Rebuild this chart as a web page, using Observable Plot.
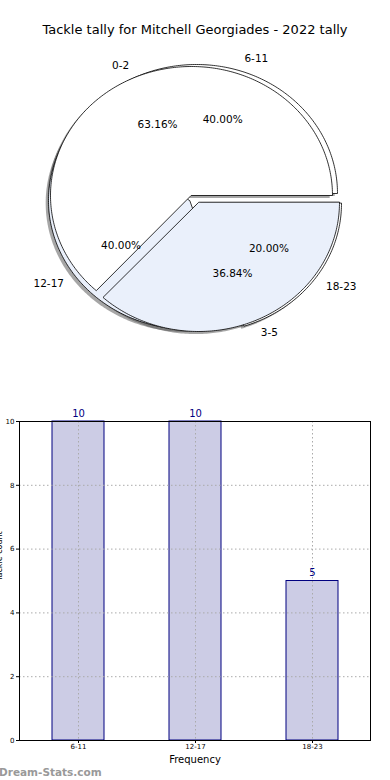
<!DOCTYPE html>
<html><head><meta charset="utf-8">
<script src="https://cdn.jsdelivr.net/npm/d3@7"></script>
<script src="https://cdn.jsdelivr.net/npm/@observablehq/plot@0.6"></script>
<style>
body{margin:0;background:#fff;font-family:"DejaVu Sans",sans-serif;}
#wrap{position:relative;width:390px;height:780px;overflow:hidden;}
#title{position:absolute;left:0;top:22px;width:390px;text-align:center;font-size:13px;line-height:16px;color:#000;}
#pie{position:absolute;left:0;top:0;}
#bar{position:absolute;left:0;top:400px;}
#wm{position:absolute;left:-1px;top:764px;font-size:10.5px;font-weight:bold;color:#999;line-height:16px;}
</style></head>
<body><div id="wrap">
<div id="pie"></div>
<div id="title">Tackle tally for Mitchell Georgiades - 2022 tally</div>
<div id="bar"></div>
<div id="wm">Dream-Stats.com</div>
</div>
<script>
// ---- data ----
const pie1Cats = ["0-2", "3-5"];
const pie1Vals = [12, 7];
const pie2Cats = ["6-11", "12-17", "18-23"];
const pie2Vals = [10, 10, 5];
const barCats = ["6-11", "12-17", "18-23"];
const barVals = [10, 10, 5];
const yTicks = [0, 2, 4, 6, 8, 10];

// ---- pie geometry ----
const RX = 141, RY = 129;
const BLUE = "#eaf0fb";
function wedges(cats, vals, fills, offsPx, id) {
  const total = d3.sum(vals); let a0 = 0;
  return cats.map((c, i) => {
    const a1 = a0 + vals[i] / total * 2 * Math.PI;
    const w = {cat: c, pct: vals[i] / total * 100, a0, a1,
      cx: offsPx[i][0] / RX, cy: -offsPx[i][1] / RY, fill: fills[i], key: id + c};
    a0 = a1;
    return w;
  });
}
function poly(w, dx = 0, dy = 0) {
  const pts = [{x: w.cx + dx, y: w.cy + dy, k: w.key, f: w.fill}];
  const n = Math.max(8, Math.ceil((w.a1 - w.a0) / 0.015));
  for (let j = 0; j <= n; j++) {
    const a = w.a0 + (w.a1 - w.a0) * j / n;
    pts.push({x: w.cx + dx + Math.cos(a), y: w.cy + dy + Math.sin(a), k: w.key, f: w.fill});
  }
  return pts;
}
const w1 = wedges(pie1Cats, pie1Vals, ["white", BLUE], [[-2, -2], [5, 5]], "a");
const w2 = wedges(pie2Cats, pie2Vals, ["white", BLUE, "white"], [[3, -4], [-4, 3], [7, 6]], "b");
const all = [...w2, ...w1];
const shadowPts = all.flatMap(w => poly(w, -0.02, -0.02));
const pie2Pts = w2.flatMap(w => poly(w));
const pie1Pts = w1.flatMap(w => poly(w));
const labels = all.map(w => {
  const m = (w.a0 + w.a1) / 2;
  return {
    lx: w.cx + 1.1 * Math.cos(m), ly: w.cy + 1.1 * Math.sin(m), left: Math.cos(m) < 0, text: w.cat,
    px: w.cx + 0.6 * Math.cos(m), py: w.cy + 0.6 * Math.sin(m), pct: w.pct.toFixed(2) + "%"
  };
});

const pie = Plot.plot({
  width: 390, height: 400, margin: 0,
  style: {fontFamily: "DejaVu Sans", background: "transparent"},
  x: {domain: [-1, 1], range: [193 - RX, 193 + RX], axis: null},
  y: {domain: [-1, 1], range: [197 + RY, 197 - RY], axis: null},
  color: {type: "identity"},
  marks: [
    Plot.line(shadowPts, {x: "x", y: "y", z: "k", fill: "#4d4d4d", fillOpacity: 0.5, stroke: null, curve: "linear-closed"}),
    Plot.line(pie2Pts, {x: "x", y: "y", z: "k", fill: "f", stroke: "black", strokeWidth: 0.8, curve: "linear-closed"}),
    Plot.line(pie1Pts, {x: "x", y: "y", z: "k", fill: "f", stroke: "black", strokeWidth: 0.8, curve: "linear-closed"}),
    Plot.text(labels.filter(d => d.left), {x: "lx", y: "ly", text: "text", textAnchor: "end", fontSize: 10.5, fill: "black"}),
    Plot.text(labels.filter(d => !d.left), {x: "lx", y: "ly", text: "text", textAnchor: "start", fontSize: 10.5, fill: "black"}),
    Plot.text(labels, {x: "px", y: "py", text: "pct", fontSize: 10.5, fill: "black"})
  ]
});
document.getElementById("pie").appendChild(pie);

// ---- bar chart ----
const bars = barCats.map((c, i) => ({c, v: barVals[i]}));
const bar = Plot.plot({
  width: 390, height: 380, marginLeft: 19, marginRight: 20, marginTop: 21, marginBottom: 40,
  style: {fontFamily: "DejaVu Sans", fontSize: "7px", background: "transparent", color: "black", overflow: "visible"},
  x: {domain: barCats, paddingInner: 0.556, paddingOuter: 0.278, label: null, tickSize: 3, tickPadding: 1},
  y: {domain: [0, 10], ticks: yTicks, label: null, tickSize: 3, tickPadding: 2},
  marks: [
    Plot.barY(bars, {x: "c", y: "v", fill: "#ccccE5", stroke: "#000080", strokeWidth: 1}),
    Plot.ruleY(yTicks.filter(t => t > 0 && t < 10), {stroke: "#aaa", strokeDasharray: "1.5,2.5"}),
    Plot.ruleX(barCats, {x: d => d, stroke: "#aaa", strokeDasharray: "1.5,2.5"}),
    Plot.frame({stroke: "black"}),
    Plot.text(bars, {x: "c", y: "v", text: d => String(d.v), dy: -8, fontSize: 10, fill: "#000080"}),
    Plot.text(["Frequency"], {frameAnchor: "bottom", dy: 22, fontSize: 10, fill: "black"}),
    Plot.text(["Tackle count"], {frameAnchor: "left", dx: -18, rotate: -90, lineAnchor: "bottom", fontSize: 8, fill: "black"})
  ]
});
document.getElementById("bar").appendChild(bar);
</script>
</body></html>
